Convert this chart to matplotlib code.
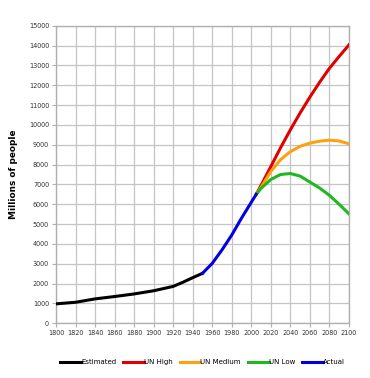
import matplotlib
matplotlib.use("Agg")
import matplotlib.pyplot as plt

est_years = [1800, 1820, 1840, 1860, 1880, 1900, 1920, 1930, 1940, 1950]
est_vals = [980, 1060, 1230, 1350, 1480, 1640, 1860, 2070, 2300, 2520]

act_years = [1950, 1960, 1970, 1980, 1990, 2000, 2005]
act_vals = [2520, 3020, 3700, 4450, 5300, 6100, 6500]

proj_years = [2005, 2010, 2020, 2030, 2040, 2050, 2060, 2070, 2080, 2090, 2100]
high_vals = [6500, 6950, 7900, 8850, 9750, 10600, 11400, 12150, 12850, 13450, 14030]
med_vals = [6500, 6850, 7650, 8250, 8650, 8920, 9080, 9180, 9230, 9190, 9050]
low_vals = [6500, 6800, 7250, 7500, 7550, 7420, 7120, 6820, 6450, 6000, 5520]

fig = plt.figure(figsize=(3.7, 3.78), dpi=100)
ax = fig.add_axes([0.1514, 0.1447, 0.7916, 0.7873])

lw = 2.2
ax.plot(est_years, est_vals, color="#000000", lw=lw, label="Estimated", zorder=3)
ax.plot(proj_years, high_vals, color="#e00000", lw=lw, label="UN High", zorder=3)
ax.plot(proj_years, med_vals, color="#ffa010", lw=lw, label="UN Medium", zorder=3)
ax.plot(proj_years, low_vals, color="#20b820", lw=lw, label="UN Low", zorder=3)
ax.plot(act_years, act_vals, color="#0000e0", lw=lw, label="Actual", zorder=4)

ax.set_xlim(1800, 2100)
ax.set_ylim(0, 15000)
ax.set_xticks(range(1800, 2101, 20))
ax.set_yticks(range(0, 15001, 1000))
ax.grid(True, color="#c4c4c4", lw=0.9)
ax.set_axisbelow(True)
for s in ax.spines.values():
    s.set_color("#b0b0b0")
    s.set_linewidth(1.0)
ax.tick_params(axis="both", labelsize=4.7, colors="#b0b0b0", labelcolor="#333333", length=3, width=0.8, pad=2)

ax.set_ylabel("Millions of people", fontsize=6.4, fontweight="bold")
ax.yaxis.set_label_coords(-0.13, 0.5)

leg = ax.legend(loc="upper center", bbox_to_anchor=(0.5, -0.1), ncol=5, frameon=False,
                fontsize=5, handlelength=3.0, handletextpad=0.0, columnspacing=1.0)

fig.savefig("out.png", dpi=100)
